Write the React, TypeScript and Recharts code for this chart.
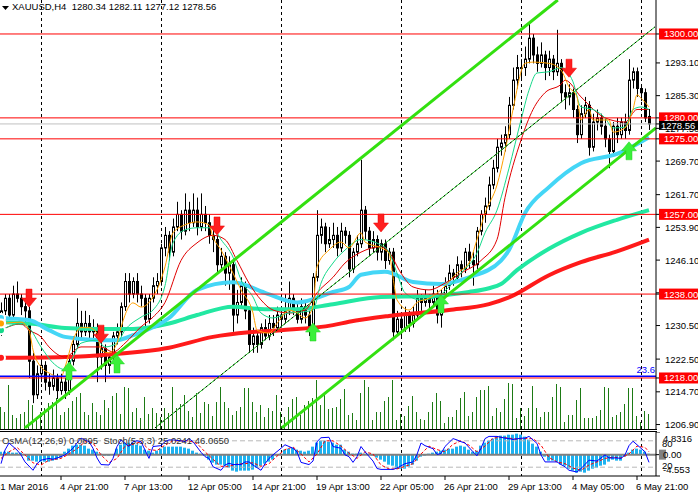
import React from "react"
import {
  Bar,
  ComposedChart,
  Line,
  ReferenceLine,
  Scatter,
  XAxis,
  YAxis,
} from "recharts"

const W = 698
const AXIS_W = 42
const PLOT_W = W - AXIS_W
const MAIN_H = 430
const IND_TOP = 432
const IND_PLOT_H = 44
const IND_H = 499 - IND_TOP
const X_DOMAIN: [number, number] = [-0.25, 163.75]
const PRICE_DOMAIN: [number, number] = [1205.6, 1308.1]
const FONT = "'Liberation Sans', Arial, sans-serif"
const FS = 9.5

// H4 candles, open / high / low / close
const ohlc: [number, number, number, number][] = [
  [1232, 1236, 1228, 1234], [1234, 1238, 1233, 1237], [1237, 1238, 1232, 1233], [1233, 1240, 1232, 1238],
  [1238, 1241, 1236, 1237], [1237, 1238, 1233, 1235], [1235, 1236, 1231, 1234], [1234, 1235, 1218, 1222],
  [1222, 1224, 1212, 1214], [1214, 1221, 1213, 1219], [1219, 1223, 1217, 1221], [1221, 1222, 1215, 1217],
  [1217, 1219, 1214, 1216], [1216, 1220, 1215, 1218], [1218, 1219, 1213, 1215], [1215, 1219, 1214, 1217],
  [1217, 1218, 1213, 1215], [1215, 1223, 1214, 1222], [1222, 1228, 1221, 1226], [1226, 1237, 1225, 1231],
  [1231, 1234, 1227, 1229], [1229, 1234, 1228, 1231], [1231, 1233, 1227, 1229], [1229, 1232, 1227, 1230],
  [1230, 1231, 1217, 1223], [1223, 1227, 1220, 1225], [1225, 1226, 1217, 1221], [1221, 1224, 1219, 1223],
  [1223, 1229, 1222, 1228], [1228, 1231, 1226, 1229], [1229, 1236, 1228, 1235], [1235, 1243, 1234, 1241],
  [1241, 1243, 1236, 1238], [1238, 1242, 1237, 1241], [1241, 1243, 1236, 1238], [1238, 1240, 1235, 1237],
  [1237, 1238, 1230, 1232], [1232, 1238, 1231, 1237], [1237, 1242, 1236, 1240], [1240, 1243, 1238, 1241],
  [1241, 1250, 1240, 1249], [1249, 1254, 1247, 1252], [1252, 1253, 1246, 1248], [1248, 1256, 1247, 1254],
  [1254, 1260, 1253, 1257], [1257, 1258, 1251, 1253], [1253, 1262, 1252, 1258], [1258, 1260, 1253, 1255],
  [1255, 1262, 1254, 1258], [1258, 1261, 1252, 1254], [1254, 1262, 1253, 1257], [1257, 1259, 1253, 1255],
  [1255, 1257, 1250, 1252], [1252, 1254, 1248, 1251], [1251, 1252, 1243, 1245], [1245, 1249, 1244, 1247],
  [1247, 1248, 1240, 1243], [1243, 1247, 1239, 1245], [1245, 1246, 1229, 1233], [1233, 1239, 1231, 1236],
  [1236, 1242, 1235, 1240], [1240, 1241, 1232, 1234], [1234, 1235, 1224, 1226], [1226, 1230, 1224, 1228],
  [1228, 1229, 1224, 1226], [1226, 1231, 1225, 1230], [1230, 1232, 1227, 1228], [1228, 1233, 1227, 1231],
  [1231, 1233, 1228, 1230], [1230, 1235, 1229, 1233], [1233, 1235, 1230, 1232], [1232, 1238, 1231, 1234],
  [1234, 1241, 1233, 1237], [1237, 1238, 1233, 1234], [1234, 1236, 1231, 1232], [1232, 1237, 1231, 1235],
  [1235, 1236, 1231, 1233], [1233, 1234, 1228, 1230], [1230, 1243, 1229, 1242], [1242, 1258, 1241, 1252],
  [1252, 1256, 1250, 1254], [1254, 1255, 1248, 1250], [1250, 1254, 1249, 1251], [1251, 1255, 1249, 1252],
  [1252, 1254, 1247, 1249], [1249, 1255, 1248, 1253], [1253, 1254, 1250, 1252], [1252, 1253, 1242, 1244],
  [1244, 1249, 1243, 1248], [1248, 1252, 1247, 1250], [1250, 1270, 1249, 1258], [1258, 1259, 1251, 1253],
  [1253, 1254, 1247, 1249], [1249, 1253, 1248, 1251], [1251, 1252, 1246, 1248], [1248, 1251, 1246, 1250],
  [1250, 1251, 1244, 1246], [1246, 1249, 1245, 1248], [1248, 1249, 1227, 1229], [1229, 1234, 1228, 1232],
  [1232, 1233, 1228, 1230], [1230, 1235, 1229, 1233], [1233, 1234, 1229, 1231], [1231, 1235, 1230, 1233],
  [1233, 1239, 1232, 1237], [1237, 1238, 1234, 1236], [1236, 1239, 1235, 1237], [1237, 1238, 1234, 1236],
  [1236, 1240, 1235, 1238], [1238, 1239, 1231, 1233], [1233, 1239, 1230, 1238], [1238, 1242, 1237, 1240],
  [1240, 1245, 1239, 1243], [1243, 1244, 1240, 1242], [1242, 1247, 1241, 1245], [1245, 1246, 1242, 1244],
  [1244, 1249, 1243, 1248], [1248, 1250, 1244, 1246], [1246, 1248, 1240, 1245], [1245, 1254, 1244, 1253],
  [1253, 1258, 1252, 1257], [1257, 1261, 1255, 1259], [1259, 1266, 1258, 1264], [1264, 1270, 1263, 1268],
  [1268, 1275, 1267, 1273], [1273, 1276, 1271, 1274], [1274, 1278, 1272, 1276], [1276, 1285, 1275, 1283],
  [1283, 1292, 1282, 1289], [1289, 1295, 1287, 1292], [1292, 1294, 1289, 1292], [1292, 1297, 1290, 1294],
  [1294, 1303, 1293, 1299], [1299, 1300, 1293, 1295], [1295, 1297, 1291, 1293], [1293, 1298, 1292, 1295],
  [1295, 1296, 1289, 1292], [1292, 1296, 1290, 1294], [1294, 1295, 1289, 1291], [1291, 1301, 1290, 1293],
  [1293, 1294, 1284, 1286], [1286, 1288, 1282, 1285], [1285, 1288, 1283, 1286], [1286, 1287, 1280, 1282],
  [1282, 1283, 1274, 1276], [1276, 1283, 1275, 1281], [1281, 1285, 1280, 1283], [1283, 1284, 1271, 1273],
  [1273, 1281, 1272, 1279], [1279, 1282, 1277, 1280], [1280, 1281, 1276, 1278], [1278, 1280, 1273, 1275],
  [1275, 1276, 1268, 1272], [1272, 1279, 1271, 1278], [1278, 1280, 1274, 1276], [1276, 1280, 1275, 1279],
  [1279, 1281, 1275, 1277], [1277, 1294, 1276, 1289], [1289, 1292, 1287, 1291], [1291, 1292, 1285, 1287],
  [1287, 1288, 1284, 1286], [1286, 1287, 1279, 1280], [1280.34, 1282.11, 1277.12, 1278.56],
]

// tick volume per bar
const volume = [
  22, 17, 44, 14, 11, 15, 17, 29, 24, 12, 17, 21, 26, 27, 31, 14, 17, 21, 28, 32,
  36, 17, 14, 26, 17, 14, 29, 21, 33, 36, 15, 42, 41, 17, 21, 11, 32, 15, 21, 16,
  12, 21, 16, 42, 21, 25, 34, 18, 12, 36, 16, 27, 25, 13, 27, 42, 27, 21, 14, 18,
  22, 41, 41, 27, 17, 24, 12, 21, 18, 34, 17, 12, 22, 30, 32, 14, 24, 28, 31, 49,
  24, 36, 20, 21, 22, 30, 40, 14, 16, 9, 36, 49, 42, 9, 17, 17, 28, 32, 49, 9,
  15, 13, 23, 33, 17, 10, 9, 17, 27, 36, 28, 6, 12, 12, 19, 31, 37, 13, 17, 32,
  39, 39, 43, 13, 21, 17, 30, 46, 45, 11, 21, 13, 21, 43, 21, 12, 17, 17, 32, 45,
  42, 7, 14, 14, 29, 41, 11, 11, 11, 13, 19, 42, 41, 12, 14, 17, 25, 41, 41, 13,
  7, 18, 15,
]

// moving averages, [bar, price]
const maFast: [number, number][] = [
  [0, 1231], [5, 1231.3], [7, 1229.4], [8, 1224.7], [10, 1220.6], [12, 1219.2], [15, 1218.2], [16, 1220.6],
  [18, 1227], [20, 1230], [22, 1230], [24, 1228.7], [25, 1224.7], [27, 1224], [29, 1226.3], [30, 1230],
  [33, 1235.9], [35, 1234.9], [38, 1237.3], [40, 1241.4], [41, 1244.5], [43, 1252.6], [46, 1254.5], [49, 1255.2],
  [52, 1254.5], [53, 1251.6], [55, 1248.5], [58, 1243], [60, 1239], [63, 1233.5], [64, 1229.4], [67, 1228.7],
  [69, 1231], [72, 1234.2], [74, 1233.5], [76, 1232.3], [78, 1235], [79, 1244.5], [82, 1248.5], [85, 1250.4],
  [87, 1249], [90, 1252.6], [91, 1250.4], [95, 1249], [97, 1247.8], [98, 1242], [99, 1236.6], [102, 1234.2],
  [104, 1236], [107, 1237], [110, 1239], [114, 1243], [117, 1245.4], [119, 1251], [121, 1257.3], [124, 1264],
  [126, 1272], [128, 1282], [131, 1293], [133, 1293.3], [137, 1293], [140, 1291.4], [142, 1287.4], [144, 1285],
  [145, 1279.5], [147, 1282], [148, 1279.5], [152, 1279.5], [153, 1276.6], [156, 1277.6], [158, 1282], [159, 1285.5],
  [160, 1284.7], [162, 1282.6],
]
const maMid: [number, number][] = [
  [0, 1229.4], [5, 1231], [7, 1230], [10, 1225.4], [13, 1221.6], [16, 1220], [18, 1223], [20, 1226.3],
  [24, 1227], [26, 1225.4], [29, 1226.3], [31, 1229.4], [35, 1232.5], [38, 1234.2], [41, 1240], [43, 1250.2],
  [46, 1253.3], [49, 1253.8], [53, 1253.8], [55, 1251], [58, 1246.8], [60, 1241.4], [63, 1237.3], [65, 1233.5],
  [68, 1232.3], [72, 1233.5], [75, 1233.7], [78, 1234.2], [80, 1240.6], [83, 1245.4], [86, 1248.5], [90, 1251],
  [95, 1249.7], [97, 1248], [99, 1243], [101, 1238.3], [105, 1236.6], [109, 1237.3], [112, 1239.7], [115, 1243],
  [119, 1247.8], [121, 1252.6], [124, 1258], [127, 1268], [130, 1279.5], [132, 1286.6], [134, 1290.7], [137, 1291],
  [140, 1292], [143, 1288.6], [145, 1282.6], [148, 1282], [151, 1280], [153, 1277.6], [156, 1277.8], [158, 1282],
  [160, 1282.6], [162, 1282],
]
const maSlow: [number, number][] = [
  [0, 1229.4], [5, 1230.9], [7, 1229.4], [10, 1227.8], [12, 1225.4], [16, 1223], [20, 1225.4], [25, 1225.4],
  [28, 1224.2], [31, 1226.3], [35, 1230.2], [38, 1232.5], [41, 1236], [45, 1246], [49, 1250.2], [53, 1252],
  [56, 1251], [59, 1246], [62, 1240.6], [65, 1236.6], [68, 1234.2], [72, 1233.5], [76, 1234.2], [79, 1238.3],
  [83, 1242], [86, 1245.4], [90, 1248], [95, 1249.3], [97, 1248], [100, 1243], [103, 1239.7], [107, 1239],
  [111, 1240.6], [115, 1243], [120, 1246], [124, 1251], [126, 1261], [130, 1274.7], [133, 1282], [136, 1286],
  [140, 1288], [141, 1289], [145, 1285], [151, 1280], [156, 1279], [159, 1282], [162, 1282],
]
const ma50: [number, number][] = [
  [0, 1232.3], [7, 1231.8], [12, 1229.4], [16, 1227.8], [25, 1227], [29, 1227], [33, 1228.2], [42, 1232.3],
  [49, 1239], [58, 1240.8], [66, 1238.3], [74, 1236], [83, 1238.5], [87, 1239.7], [90, 1242.6], [96, 1243.3],
  [103, 1240.9], [110, 1240.4], [117, 1242], [125, 1246], [127, 1248.5], [131, 1257.3], [137, 1263.5], [145, 1269.2],
  [154, 1271.4], [162, 1275.4],
]
const ma100: [number, number][] = [
  [0, 1231.3], [8, 1230.9], [16, 1229.9], [25, 1229.7], [33, 1229.7], [42, 1231], [49, 1233], [58, 1235],
  [66, 1234.4], [74, 1234.4], [83, 1235.6], [95, 1237.3], [107, 1237.5], [117, 1238.5], [122, 1239.4], [125, 1240.4],
  [129, 1243.7], [137, 1248.8], [145, 1252.6], [154, 1255.7], [162, 1258],
]
const ma200: [number, number][] = [
  [0, 1222.8], [16, 1223], [27, 1223.6], [42, 1225.2], [53, 1227.8], [62, 1228.9], [70, 1229.4], [83, 1230.6],
  [87, 1231.4], [97, 1232.8], [112, 1234.2], [122, 1235.6], [127, 1237.2], [137, 1242.5], [145, 1245.6], [154, 1248.2],
  [162, 1251],
]

// OsMA(12,26,9) histogram per bar
const osma = [
  0.64, 0.64, 0.64, 0.43, 0.43, 0.43, 0, -1.28, -1.28, -1.49,
  -1.49, -1.49, -1.49, -1.28, -1.07, -0.64, 0.64, 1.28, 1.92, 2.13,
  2.13, 1.92, 1.28, 1.07, 0.64, 0.21, -0.21, -0.21, 0, 1.28,
  2.13, 2.56, 2.56, 2.56, 2.13, 1.92, 1.07, 0.85, 0.43, 0.85,
  1.28, 1.71, 1.71, 1.71, 1.71, 1.71, 1.49, 1.28, 0.85, 0.43,
  0.21, -0.21, -1.07, -1.71, -2.13, -2.13, -2.35, -2.77, -3.41, -3.63,
  -3.41, -3.41, -3.41, -3.2, -2.77, -2.35, -1.92, -1.49, -1.07, -0.21,
  0.21, 1.07, 1.28, 1.49, 1.07, 0.85, 0.64, 0.85, 1.71, 2.56,
  2.99, 2.99, 2.77, 2.56, 2.13, 2.13, 1.07, 0.64, 0.21, 0.21,
  0.43, 0.21, 0.21, -0.21, -0.64, -1.07, -1.49, -2.13, -2.35, -2.99,
  -2.99, -2.99, -2.56, -2.13, -1.28, -0.43, -0.21, 0.21, 0.43, 0.64,
  0.85, 1.07, 1.28, 1.28, 1.71, 1.92, 1.71, 1.07, 0.64, 0.85,
  1.92, 2.56, 2.99, 3.41, 3.84, 4.05, 4.05, 4.27, 4.27, 4.48,
  4.27, 3.84, 3.2, 2.35, 1.71, 0.64, -0.43, -1.28, -1.28, -1.49,
  -2.13, -2.35, -2.99, -3.41, -3.84, -3.63, -3.84, -3.41, -2.99, -2.77,
  -2.35, -2.13, -1.49, -1.07, -1.28, -1.28, -0.43, 0.43, 1.07, 1.28,
  1.07, 0.64, 0.21,
]

// Stochastic(5,3,3): main and signal, [bar, value]
const stochMain: [number, number][] = [
  [0, 28], [1, 59], [2, 75], [4, 59], [5, 48], [6, 32], [8, 13], [9, 28], [10, 36], [12, 40], [13, 38], [15, 44],
  [16, 48], [18, 63], [19, 75], [20, 86], [22, 78], [23, 63], [24, 41], [25, 26], [27, 25], [28, 40], [29, 67], [30, 82],
  [32, 67], [33, 78], [34, 80], [35, 78], [37, 40], [38, 67], [40, 69], [41, 78], [42, 82], [43, 82], [45, 80], [46, 78],
  [47, 85], [48, 78], [50, 54], [51, 44], [52, 40], [53, 21], [55, 13], [56, 25], [57, 29], [58, 26], [60, 26], [61, 32],
  [62, 32], [63, 25], [65, 13], [66, 28], [67, 40], [68, 48], [70, 63], [71, 71], [72, 67], [73, 63], [74, 55], [75, 31],
  [77, 26], [78, 34], [79, 78], [80, 87], [82, 88], [83, 67], [85, 63], [86, 48], [87, 44], [88, 31], [89, 44], [90, 67],
  [91, 55], [93, 34], [94, 17], [95, 15], [96, 15], [98, 15], [99, 18], [100, 23], [101, 28], [103, 32], [104, 49], [105, 75],
  [106, 69], [108, 62], [109, 49], [110, 51], [111, 67], [113, 85], [114, 82], [115, 78], [116, 75], [118, 55], [119, 46], [120, 63],
  [121, 85], [122, 90], [124, 90], [125, 88], [126, 86], [127, 85], [128, 83], [130, 86], [131, 86], [132, 90], [134, 74], [135, 48],
  [136, 32], [137, 32], [139, 32], [140, 26], [141, 21], [142, 13], [144, 9], [145, 17], [146, 26], [147, 36], [149, 34], [150, 41],
  [151, 48], [152, 41], [154, 41], [155, 40], [156, 48], [157, 69], [158, 79], [159, 71], [161, 55], [162, 31],
]
const stochSignal: [number, number][] = [
  [0, 40], [2, 55], [4, 65], [6, 48], [8, 30], [10, 25], [12, 36], [15, 40], [17, 50], [19, 62], [21, 78], [23, 75],
  [25, 48], [27, 30], [29, 40], [31, 68], [33, 72], [35, 78], [37, 60], [39, 58], [41, 70], [43, 80], [45, 80], [47, 80],
  [49, 74], [51, 55], [53, 38], [55, 22], [57, 22], [59, 27], [61, 28], [63, 30], [65, 22], [67, 28], [69, 45], [71, 60],
  [73, 66], [75, 50], [77, 32], [79, 50], [81, 80], [83, 80], [85, 68], [87, 52], [89, 40], [91, 55], [93, 50], [95, 25],
  [97, 16], [99, 16], [101, 22], [103, 28], [105, 50], [107, 68], [109, 60], [111, 55], [113, 72], [115, 80], [117, 70], [119, 55],
  [121, 68], [123, 86], [125, 88], [127, 86], [129, 84], [131, 85], [133, 85], [135, 70], [137, 42], [139, 32], [141, 28], [143, 18],
  [145, 13], [147, 25], [149, 32], [151, 40], [153, 43], [155, 41], [157, 50], [159, 68], [161, 65], [162, 55],
]

// horizontal levels
const levels = [1300, 1280, 1275, 1257, 1238, 1218]
const fibLevel = 1218.4
const bid = 1278.56
const priceTicks = [1206.9, 1214.7, 1222.5, 1230.5, 1238.3, 1246.1, 1253.9, 1261.7, 1269.7, 1277.5, 1285.3, 1293.1]

// trend channel, [bar, price] to [bar, price]
const channels: { from: [number, number]; to: [number, number]; thin?: boolean }[] = [
  { from: [6, 1206.1], to: [139.2, 1308.1] },
  { from: [70.2, 1206.1], to: [163.75, 1277.6] },
  { from: [38.5, 1206.1], to: [163.5, 1301.7], thin: true },
]

// signal arrows, [bar, price at tip]
const sellArrows = [[7, 1234.9], [25, 1226.3], [54, 1252.1], [95, 1252.8], [142, 1289.7]]
const buyArrows = [[17, 1221.8], [29, 1223.5], [78, 1231.1], [110, 1237.8], [157, 1274.3]]

// weekly separators (first bar of each week) and time axis
const weekStarts = [10, 40, 70, 100, 130, 160]
const timeTicks = [0, 15, 31, 47, 63, 79, 95, 111, 127, 143, 159]
const timeLabels = [
  "31 Mar 2016", "4 Apr 21:00", "7 Apr 13:00", "12 Apr 05:00", "14 Apr 21:00", "19 Apr 13:00",
  "22 Apr 05:00", "26 Apr 21:00", "29 Apr 13:00", "4 May 05:00", "6 May 21:00",
]
const osmaDomain: [number, number] = [-4.553, 4.8316]
const osmaTicks = [4.8316, 0, -4.553]

const pick = (pts: [number, number][]) => new Map(pts)
const fastM = pick(maFast), midM = pick(maMid), slowM = pick(maSlow)
const m50 = pick(ma50), m100 = pick(ma100), m200 = pick(ma200)
const kM = pick(stochMain), dM = pick(stochSignal)

const rows = ohlc.map(([o, h, l, c], i) => ({
  i, o, h, l, c,
  range: [l, h],
  vol: volume[i],
  sep: weekStarts.includes(i) ? PRICE_DOMAIN : null,
  fast: fastM.get(i) ?? null,
  mid: midM.get(i) ?? null,
  slow: slowM.get(i) ?? null,
  e50: m50.get(i) ?? null,
  e100: m100.get(i) ?? null,
  e200: m200.get(i) ?? null,
}))

const indRows = ohlc.map((_, i) => ({
  i,
  osma: osma[i],
  sep: weekStarts.includes(i) ? [0, 100] : null,
  k: kM.get(i) ?? null,
  d: dM.get(i) ?? null,
}))

const sellData = sellArrows.map(([i, p]) => ({ i, p }))
const buyData = buyArrows.map(([i, p]) => ({ i, p }))

function Candle(props: any) {
  const { x, y, width, height, payload } = props
  if (x == null || !payload) return null
  const { o, h, l, c } = payload
  const top = Math.min(y, y + height)
  const span = Math.abs(height)
  const py = (p: number) => (h === l ? top : top + ((h - p) / (h - l)) * span)
  const cx = Math.round(x + width / 2) + 0.5
  const bTop = py(Math.max(o, c))
  const bBot = py(Math.min(o, c))
  return (
    <g>
      <line x1={cx} x2={cx} y1={top} y2={top + span} stroke="#000" />
      <rect
        x={cx - 1}
        y={bTop}
        width={2}
        height={Math.max(1, bBot - bTop)}
        fill={c >= o ? "#fff" : "#000"}
        stroke="#000"
      />
    </g>
  )
}

function Separator(props: any) {
  const { x, y, width, height } = props
  if (x == null || !height) return null
  const cx = Math.round(x + width / 2) + 0.5
  const top = Math.min(y, y + height)
  return <line x1={cx} x2={cx} y1={top} y2={top + Math.abs(height)} stroke="#000" strokeDasharray="3 3" />
}

function SellArrow({ cx, cy }: any) {
  if (cx == null) return null
  const pts = [[-3, -18], [3, -18], [3, -9], [7.5, -9], [0, 0], [-7.5, -9], [-3, -9]]
  return (
    <polygon points={pts.map(([dx, dy]) => `${cx + dx},${cy + dy}`).join(" ")} fill="#ff1f1f" stroke="#e80000" strokeWidth={0.5} />
  )
}

function BuyArrow({ cx, cy }: any) {
  if (cx == null) return null
  const pts = [[-3, 18], [3, 18], [3, 9], [7.5, 9], [0, 0], [-7.5, 9], [-3, 9]]
  return (
    <polygon points={pts.map(([dx, dy]) => `${cx + dx},${cy + dy}`).join(" ")} fill="#3af03a" stroke="#22d022" strokeWidth={0.5} />
  )
}

function PriceTick({ y, payload }: any) {
  const v = payload.value as number
  const label = v.toFixed(2)
  if (levels.includes(v)) {
    return (
      <g>
        <rect x={PLOT_W + 3} y={y - 5.5} width={AXIS_W - 3} height={11} fill="#ff0000" />
        <text x={PLOT_W + 8} y={y + 3.5} fill="#fff" fontSize={FS} fontFamily={FONT}>{label}</text>
      </g>
    )
  }
  if (v === bid) {
    return (
      <g>
        <rect x={PLOT_W + 3} y={y - 3} width={AXIS_W - 3} height={9} fill="#000" />
        <text x={PLOT_W + 5} y={y + 5} fill="#fff" fontSize={FS} fontFamily={FONT}>{label}</text>
      </g>
    )
  }
  return <text x={PLOT_W + 9} y={y + 3.5} fill="#000" fontSize={FS} fontFamily={FONT}>{label}</text>
}

function OsmaTick({ y, payload }: any) {
  const v = payload.value as number
  if (v === 0) {
    return (
      <g>
        <rect x={PLOT_W + 3} y={y - 5} width={7} height={10} fill="#808080" />
        <text x={PLOT_W + 7} y={y + 3.5} fill="#000" fontSize={FS} fontFamily={FONT}>0.00</text>
      </g>
    )
  }
  const dy = v > 0 ? 10 : -3
  return (
    <text x={PLOT_W + 7} y={y + dy} fill="#000" fontSize={FS} fontFamily={FONT}>
      {v > 0 ? v.toFixed(4) : v.toFixed(3)}
    </text>
  )
}

function TimeTick({ x, payload }: any) {
  const k = timeTicks.indexOf(payload.value)
  const first = k === 0
  return (
    <g>
      {!first && <line x1={x} x2={x} y1={IND_PLOT_H} y2={IND_PLOT_H + 4} stroke="#000" />}
      <text x={x - (first ? 6 : 1)} y={IND_PLOT_H + 14} fill="#000" fontSize={FS} fontFamily={FONT}>
        {timeLabels[k]}
      </text>
    </g>
  )
}

function MainChart() {
  return (
    <ComposedChart width={W} height={MAIN_H} data={rows} margin={{ top: 0, right: 0, bottom: 0, left: 0 }}>
      <XAxis xAxisId="p" dataKey="i" type="number" domain={X_DOMAIN} allowDataOverflow hide />
      <XAxis xAxisId="v" dataKey="i" type="number" domain={X_DOMAIN} allowDataOverflow hide />
      <XAxis xAxisId="w" dataKey="i" type="number" domain={X_DOMAIN} allowDataOverflow hide />
      <YAxis
        yAxisId="p"
        orientation="right"
        width={AXIS_W}
        domain={PRICE_DOMAIN}
        allowDataOverflow
        ticks={[...priceTicks, ...levels, bid]}
        interval={0}
        tick={<PriceTick />}
        tickSize={4}
        tickLine={{ stroke: "#000" }}
        axisLine={{ stroke: "#000" }}
      />
      <YAxis yAxisId="v" domain={[-1, 429]} hide />

      <Bar xAxisId="w" yAxisId="p" dataKey="sep" barSize={1} shape={<Separator />} isAnimationActive={false} />
      <ReferenceLine xAxisId="p" yAxisId="p" y={bid} stroke="#c0c0c0" />

      <Bar xAxisId="v" yAxisId="v" dataKey="vol" barSize={1} fill="#1d7a14" isAnimationActive={false} />
      <Bar xAxisId="p" yAxisId="p" dataKey="range" barSize={5} shape={<Candle />} isAnimationActive={false} />

      <Line xAxisId="p" yAxisId="p" dataKey="e200" type="monotone" stroke="#ff1a1a" strokeWidth={4} dot={false} connectNulls isAnimationActive={false} />
      <Line xAxisId="p" yAxisId="p" dataKey="e100" type="monotone" stroke="#22e8a2" strokeWidth={4} dot={false} connectNulls isAnimationActive={false} />
      <Line xAxisId="p" yAxisId="p" dataKey="e50" type="monotone" stroke="#44d6f6" strokeWidth={4} dot={false} connectNulls isAnimationActive={false} />
      <Line xAxisId="p" yAxisId="p" dataKey="slow" type="monotone" stroke="#e00000" strokeWidth={1} dot={false} connectNulls isAnimationActive={false} />
      <Line xAxisId="p" yAxisId="p" dataKey="mid" type="monotone" stroke="#15d98a" strokeWidth={1} dot={false} connectNulls isAnimationActive={false} />
      <Line xAxisId="p" yAxisId="p" dataKey="fast" type="monotone" stroke="#ffa000" strokeWidth={1} dot={false} connectNulls isAnimationActive={false} />

      {levels.map((lv) => (
        <ReferenceLine key={lv} xAxisId="p" yAxisId="p" y={lv} stroke="#ff0000" />
      ))}
      <ReferenceLine
        xAxisId="p"
        yAxisId="p"
        y={fibLevel}
        stroke="#0000ff"
        strokeWidth={1.5}
        label={(p: any) => (
          <text x={PLOT_W - 1} y={p.viewBox.y - 3} textAnchor="end" fill="#0000ff" fontSize={FS} fontFamily={FONT}>23.6</text>
        )}
      />

      {channels.map((ch, k) => (
        <ReferenceLine
          key={"c" + k}
          xAxisId="p"
          yAxisId="p"
          segment={[{ x: ch.from[0], y: ch.from[1] }, { x: ch.to[0], y: ch.to[1] }]}
          stroke={ch.thin ? "#22cc22" : "#33e010"}
          strokeWidth={ch.thin ? 1 : 3}
          ifOverflow="hidden"
        />
      ))}
      {channels.filter((ch) => ch.thin).map((ch, k) => (
        <ReferenceLine
          key={"d" + k}
          xAxisId="p"
          yAxisId="p"
          segment={[{ x: ch.from[0], y: ch.from[1] }, { x: ch.to[0], y: ch.to[1] }]}
          stroke="#000"
          strokeWidth={1}
          strokeDasharray="2 3"
          ifOverflow="hidden"
        />
      ))}

      <Scatter xAxisId="p" yAxisId="p" data={sellData} dataKey="p" shape={<SellArrow />} isAnimationActive={false} />
      <Scatter xAxisId="p" yAxisId="p" data={buyData} dataKey="p" shape={<BuyArrow />} isAnimationActive={false} />
    </ComposedChart>
  )
}

function IndicatorChart() {
  return (
    <ComposedChart width={W} height={IND_H} data={indRows} margin={{ top: 0, right: 0, bottom: 0, left: 0 }}>
      <XAxis
        dataKey="i"
        type="number"
        domain={X_DOMAIN}
        allowDataOverflow
        ticks={timeTicks}
        interval={0}
        tick={<TimeTick />}
        tickLine={false}
        axisLine={{ stroke: "#000" }}
        height={IND_H - IND_PLOT_H}
      />
      <XAxis xAxisId="w" dataKey="i" type="number" domain={X_DOMAIN} allowDataOverflow hide />
      <YAxis
        yAxisId="o"
        orientation="right"
        width={AXIS_W}
        domain={osmaDomain}
        allowDataOverflow
        ticks={osmaTicks}
        interval={0}
        tick={<OsmaTick />}
        tickSize={4}
        tickLine={{ stroke: "#000" }}
        axisLine={{ stroke: "#000" }}
      />
      <YAxis yAxisId="s" domain={[0, 100]} hide />

      <Bar xAxisId="w" yAxisId="s" dataKey="sep" barSize={1} shape={<Separator />} isAnimationActive={false} />
      <Bar yAxisId="o" dataKey="osma" barSize={3} fill="#1db2f0" isAnimationActive={false} />
      <ReferenceLine yAxisId="o" y={0} stroke="#808080" strokeWidth={2} />
      {[80, 20].map((lv) => (
        <ReferenceLine
          key={lv}
          yAxisId="s"
          y={lv}
          stroke="#b8b8b8"
          strokeDasharray="5 3"
          label={(p: any) => (
            <text x={PLOT_W + 6} y={p.viewBox.y + (lv > 50 ? 6 : 2)} fill="#000" fontSize={FS} fontFamily={FONT}>{lv}</text>
          )}
        />
      ))}
      <Line yAxisId="s" dataKey="d" stroke="#ff0000" strokeWidth={1} strokeDasharray="3 2" dot={false} connectNulls isAnimationActive={false} />
      <Line yAxisId="s" dataKey="k" stroke="#0000ff" strokeWidth={1} dot={false} connectNulls isAnimationActive={false} />
    </ComposedChart>
  )
}

export default function App() {
  return (
    <div
      style={{
        position: "fixed",
        left: 0,
        top: 0,
        width: W,
        height: 499,
        background: "#fff",
        overflow: "hidden",
        fontFamily: FONT,
      }}
    >
      <div style={{ position: "absolute", left: 0, top: 0 }}>
        <MainChart />
      </div>
      <div style={{ position: "absolute", left: 0, top: MAIN_H - 1, width: PLOT_W + 1, height: 1, background: "#000" }} />
      <div style={{ position: "absolute", left: 0, top: IND_TOP - 1, width: PLOT_W + 1, height: 1, background: "#000" }} />
      <div style={{ position: "absolute", left: 0, top: IND_TOP }}>
        <IndicatorChart />
      </div>
      <div style={{ position: "absolute", left: 1, top: 1, fontSize: FS, color: "#000", whiteSpace: "pre", display: "flex", alignItems: "center" }}>
        <svg width={10} height={10} style={{ marginRight: 1 }}>
          <polygon points="1,4 8,4 4.5,8" fill="#000" />
        </svg>
        {"XAUUSD,H4  1280.34 1282.11 1277.12 1278.56"}
      </div>
      <div style={{ position: "absolute", left: 2, top: IND_TOP + 3, fontSize: FS, color: "#303030", whiteSpace: "pre" }}>
        {"OsMA(12,26,9) 0.0895  Stoch(5,3,3) 25.0241 46.0650"}
      </div>
    </div>
  )
}
